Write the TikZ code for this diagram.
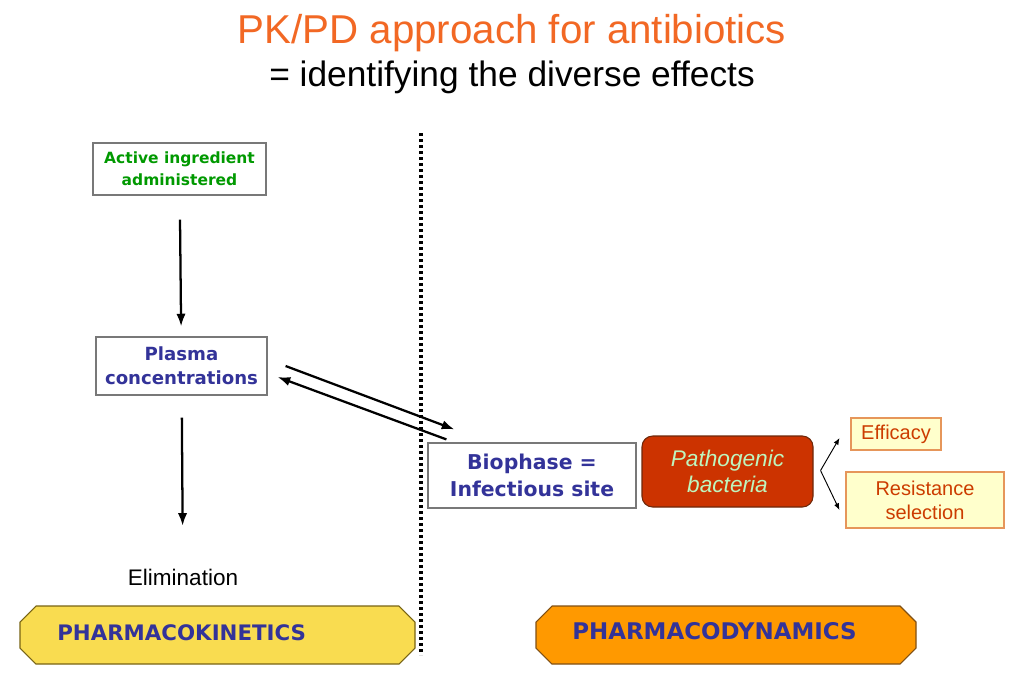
\documentclass[tikz,border=0pt]{standalone}
\usepackage{fontspec}
\setmainfont{Liberation Sans}
\newfontfamily\vfont{DejaVu Sans}
\usetikzlibrary{arrows.meta,calc}
\definecolor{titleorange}{RGB}{242,104,36}
\definecolor{greentext}{RGB}{0,153,0}
\definecolor{bluetext}{RGB}{51,51,153}
\definecolor{boxgray}{RGB}{120,120,120}
\definecolor{bactfill}{RGB}{204,51,0}
\definecolor{bactline}{RGB}{110,40,10}
\definecolor{bacttext}{RGB}{190,245,190}
\definecolor{efftext}{RGB}{204,60,0}
\definecolor{effline}{RGB}{230,150,90}
\definecolor{efffill}{RGB}{255,255,204}
\definecolor{pkfill}{RGB}{249,220,80}
\definecolor{pkline}{RGB}{120,100,20}
\definecolor{pdfill}{RGB}{255,153,0}
\definecolor{pdline}{RGB}{128,80,20}
% chamfered banner, from x=#1 to x=#2
\def\banner#1#2{(#1,622) -- ($(#1,606)+(16,0)$) -- ($(#2,606)+(-16,0)$) -- (#2,622) -- (#2,648) -- ($(#2,664)+(-16,0)$) -- ($(#1,664)+(16,0)$) -- (#1,648) -- cycle}
\begin{document}
\begin{tikzpicture}[x=0.75pt,y=-0.75pt,
    box/.style={draw=boxgray,fill=white,line width=0.9pt,align=center,inner sep=0pt},
    arr/.style={line width=1.7pt,-{Latex[length=9.5pt,width=7pt]}},
    thinarr/.style={line width=0.7pt,-{Latex[length=5pt,width=4pt]}},
    resbox/.style={draw=effline,fill=efffill,line width=0.8pt,align=center,inner sep=0pt,text=efftext,
        font=\fontsize{15}{18}\selectfont},
    bannertext/.style={anchor=west,inner sep=0pt,text=bluetext,font=\vfont\bfseries\fontsize{16}{19}\selectfont}]
    \useasboundingbox[fill=white] (0,0) rectangle (1024,683);
    % titles
    \node (title) at (512,33) {\fontsize{30.2}{35}\selectfont\color{titleorange}PK/PD approach for antibiotics};
    \node (subtitle) at (512,77) {\fontsize{26.5}{31}\selectfont = identifying the diverse effects};
    % PK side
    \node[box,minimum width=129.75pt,minimum height=39pt,text=greentext,
        font=\vfont\bfseries\fontsize{11.6}{16.5}\selectfont] (act) at (179.5,169) {Active ingredient\\administered};
    \node[box,minimum width=128.25pt,minimum height=43.5pt,text=bluetext,
        font=\vfont\bfseries\fontsize{13.6}{18}\selectfont] (plasma) at (181.5,366) {Plasma\\concentrations};
    \node[inner sep=0pt,font=\fontsize{16.9}{20}\selectfont] (elim) at (183,577) {Elimination};
    \draw[arr,shorten <=18pt,shorten >=7.5pt] (act) -- (plasma);
    \draw[arr,shorten <=16.5pt,shorten >=32pt] (plasma) -- (elim);
    % separation
    \draw[line width=2.3pt,dash pattern=on 2.3pt off 2.2pt] (421,133) -- (421,655);
    % PD side
    \node[box,minimum width=156pt,minimum height=48.75pt,text=bluetext,
        font=\vfont\bfseries\fontsize{15.3}{20}\selectfont] (bio) at (532,475.5) {Biophase =\\Infectious site};
    \node[draw=bactline,fill=bactfill,rounded corners=8pt,line width=0.8pt,minimum width=128.25pt,
        minimum height=53.25pt,align=center,text=bacttext,
        font=\itshape\fontsize{17}{20}\selectfont] (bact) at (727.5,471.5) {Pathogenic\\bacteria};
    \node[resbox,minimum width=67.5pt,minimum height=24pt] (eff) at (896,434) {Efficacy};
    \node[resbox,minimum width=118.5pt,minimum height=42pt] (res) at (925,500) {Resistance\\selection};
    % exchanges
    \coordinate (p1) at ($(plasma.east)+(18,0)$);
    \coordinate (p2) at ($(plasma.east)+(10,11)$);
    \coordinate (b1) at ($(bio.north west)+(27,-13)$);
    \coordinate (b2) at ($(bio.north west)+(19,-3)$);
    \draw[arr] (p1) -- (b1);
    \draw[arr] (b2) -- (p2);
    \coordinate (fork) at ($(bact.east)+(7,-1)$);
    \draw[thinarr] (fork) -- ($(eff.west)+(-11,4)$);
    \draw[thinarr] (fork) -- ($(res.west)+(-6,10)$);
    % banners
    \draw[fill=pkfill,draw=pkline,line width=0.8pt] \banner{20}{415};
    \draw[fill=pdfill,draw=pdline,line width=0.8pt] \banner{536}{916};
    \node[bannertext] (pk) at (57,633) {PHARMACOKINETICS};
    \node[bannertext,font=\vfont\bfseries\fontsize{17.2}{20}\selectfont] (pd) at (572,631) {PHARMACODYNAMICS};
\end{tikzpicture}
\end{document}
